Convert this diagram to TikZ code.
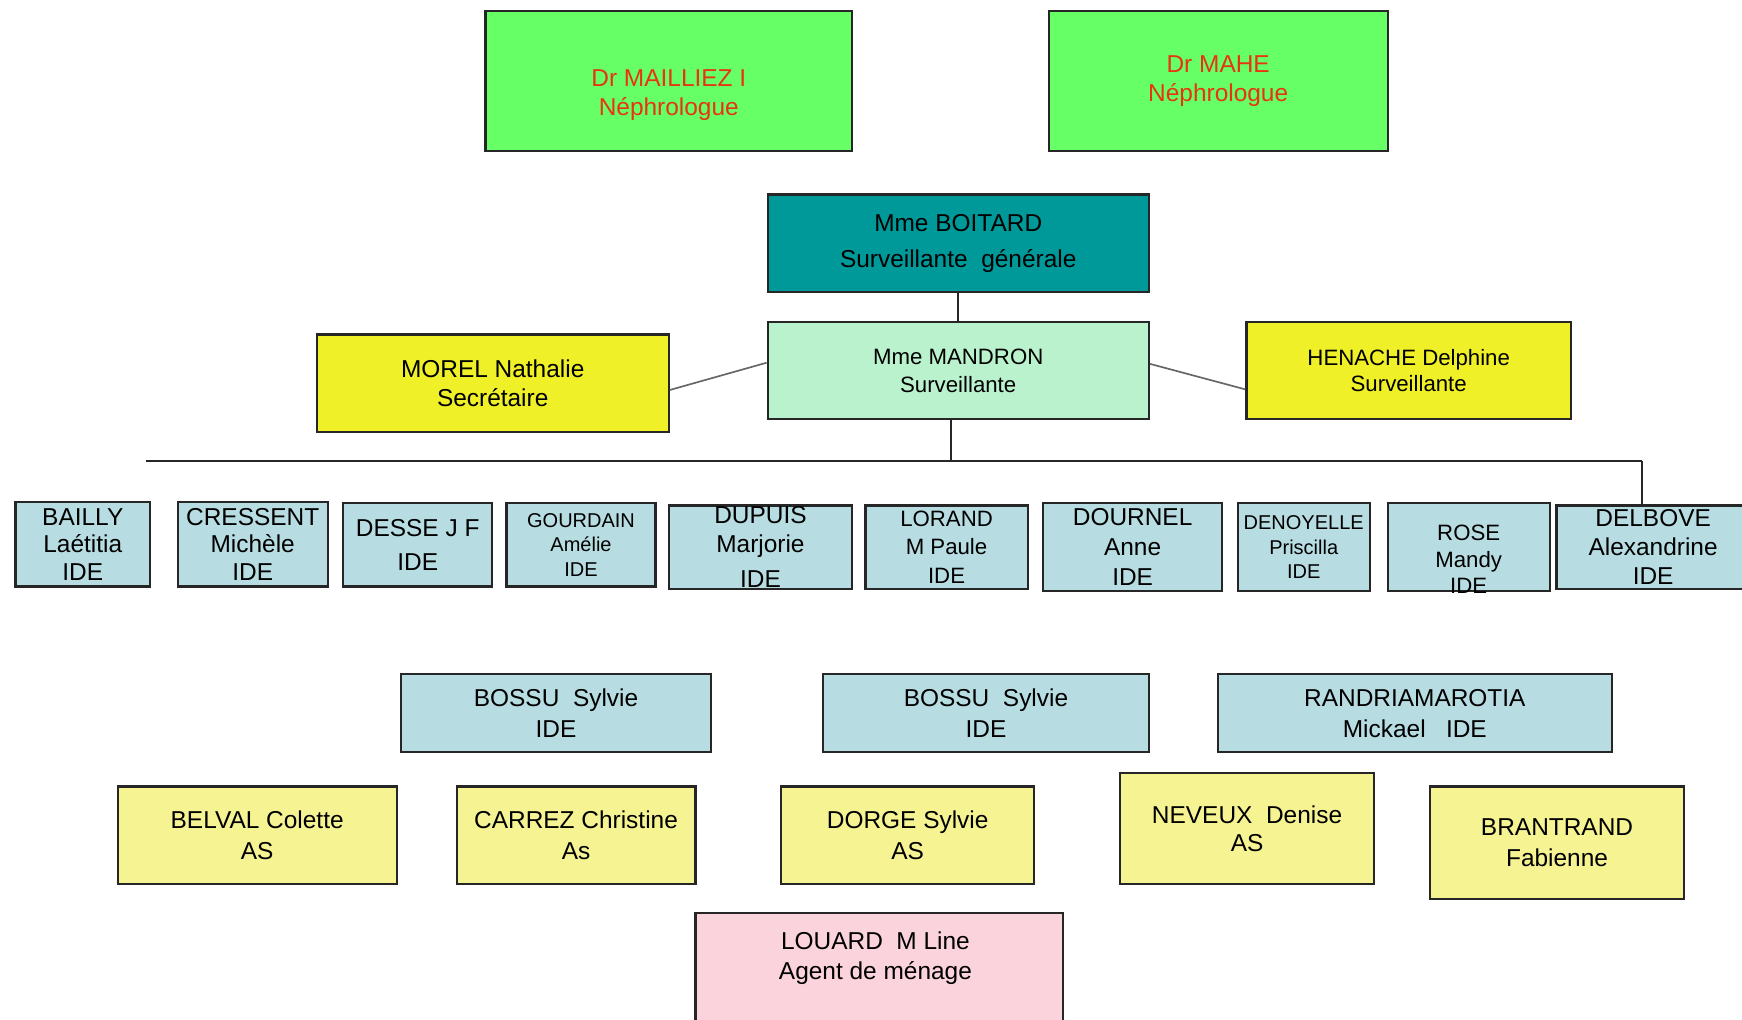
\documentclass[tikz,border=0pt]{standalone}
\usepackage{fontspec}
\setmainfont{Liberation Sans}
\definecolor{docgreen}{RGB}{102,255,102}
\definecolor{docred}{RGB}{232,52,18}
\definecolor{chefteal}{RGB}{0,153,153}
\definecolor{survmint}{RGB}{187,242,206}
\definecolor{survyellow}{RGB}{240,240,40}
\definecolor{idebleu}{RGB}{183,221,226}
\definecolor{aspale}{RGB}{246,243,147}
\definecolor{menrose}{RGB}{251,211,220}
\begin{document}
\begin{tikzpicture}[x=1pt,y=-1pt,
    sz/.style 2 args={minimum width=#1pt, minimum height=#2pt},
    fs/.style 2 args={font=\fontsize{#1}{#2}\selectfont},
    box/.style={draw=black!85, line width=2pt, align=center, inner sep=0pt, fs={22}{26}},
    doc/.style={box, fill=docgreen, text=docred},
    doctext/.style={align=center, inner sep=0pt, text=docred, fs={22}{26}},
    chef/.style={box, fill=chefteal, fs={22}{32}},
    surv/.style={box, fill=survmint, fs={20}{25}},
    sec/.style={box, fill=survyellow},
    ide/.style={box, fill=idebleu, fs={22}{25}},
    as/.style={box, fill=aspale, fs={22}{28}},
    plain/.style={align=center, inner sep=0pt, fs={22}{26}},
    link/.style={draw=black!85, line width=2pt},
    side/.style={draw=black!60, line width=1.5pt}]
  \path[use as bounding box, fill=white] (0,0) rectangle (1568,918);
  \clip (0,0) rectangle (1568,918);
  \draw
    (602,73) node[doc, sz={330}{126}] (mailliez){}
    (602,86) node[doctext] (mailliez-t){Dr MAILLIEZ I\\Néphrologue}
    (1096.5,73) node[doc, sz={305}{126}] (mahe){Dr MAHE\\Néphrologue}
    (862.5,219) node[chef, sz={343}{88}] (boitard){Mme BOITARD\\Surveillante\ \ générale}
    (862.5,333.5) node[surv, sz={343}{87}] (mandron){Mme MANDRON\\Surveillante}
    (443.5,345) node[sec, sz={317}{88}] (morel){MOREL Nathalie\\Secrétaire}
    (1268,333.5) node[sec, sz={292}{87}, fs={20}{24}] (henache){HENACHE Delphine\\Surveillante};
  \draw
    (74.5,490) node[ide, sz={121}{76}] (bailly){BAILLY\\Laétitia\\IDE}
    (227.5,490) node[ide, sz={135}{76}] (cressent){CRESSENT\\Michèle\\IDE}
    (376,490.5) node[ide, sz={134}{75}, fs={22}{31}] (desse){DESSE J F\\IDE}
    (523,490.5) node[ide, sz={134}{75}, fs={18}{22}] (gourdain){GOURDAIN\\Amélie\\IDE}
    (684.5,492.5) node[ide, sz={165}{75}, fs={22}{26}] (dupuis){DUPUIS\\Marjorie\\[6pt]IDE}
    (852,492.5) node[ide, sz={146}{75}, fs={20}{26}] (lorand){LORAND\\M Paule\\IDE}
    (1019.5,492.5) node[ide, sz={161}{79}, fs={22}{27}] (dournel){DOURNEL\\Anne\\IDE}
    (1173.5,492.5) node[ide, sz={119}{79}, fs={18}{22}] (denoyelle){DENOYELLE\\Priscilla\\IDE}
    (1322,492.5) node[ide, sz={146}{79}] (rose){}
    (1322,503.5) node[plain, fs={20}{24}] (rose-t){ROSE\\Mandy\\IDE}
    (1488,492.5) node[ide, sz={174}{75}, fs={22}{26}] (delbove){DELBOVE\\Alexandrine\\IDE};
  \draw
    (500.5,642) node[ide, sz={279}{70}, fs={22}{28}] (bossu1){BOSSU\ \ Sylvie\\IDE}
    (887.5,642) node[ide, sz={293}{70}, fs={22}{28}] (bossu2){BOSSU\ \ Sylvie\\IDE}
    (1273.5,642) node[ide, sz={355}{70}, fs={22}{28}] (randria){RANDRIAMAROTIA\\Mickael\ \ \ IDE}
    (231.5,752) node[as, sz={251}{88}] (belval){BELVAL Colette\\AS}
    (518.5,752) node[as, sz={215}{88}] (carrez){CARREZ Christine\\As}
    (817,752) node[as, sz={228}{88}] (dorge){DORGE Sylvie\\AS}
    (1122.5,746) node[as, sz={229}{100}, fs={22}{26}] (neveux){NEVEUX\ \ Denise\\AS}
    (1401.5,758.5) node[as, sz={229}{101}] (brantrand){BRANTRAND\\Fabienne}
    (791.5,881) node[box, fill=menrose, sz={331}{118}] (louard){}
    (788,862.5) node[plain, fs={22}{27}] (louard-t){LOUARD\ \ M Line\\Agent de ménage};
  \coordinate (busL) at (131,415);
  \coordinate (busM) at (856,415);
  \coordinate (busR) at (1478,415);
  \begin{scope}[link]
    \draw (boitard) to (mandron);
    \draw ([xshift=-6.5pt]mandron.south) to (busM);
    \draw (busL) to (busR);
    \draw (busR) to (busR |- delbove.north);
  \end{scope}
  \begin{scope}[side]
    \draw ([yshift=-6pt]morel.east) to ([yshift=7pt]mandron.west);
    \draw ([yshift=6pt]mandron.east) to ([yshift=-17pt]henache.west);
  \end{scope}
\end{tikzpicture}
\end{document}
